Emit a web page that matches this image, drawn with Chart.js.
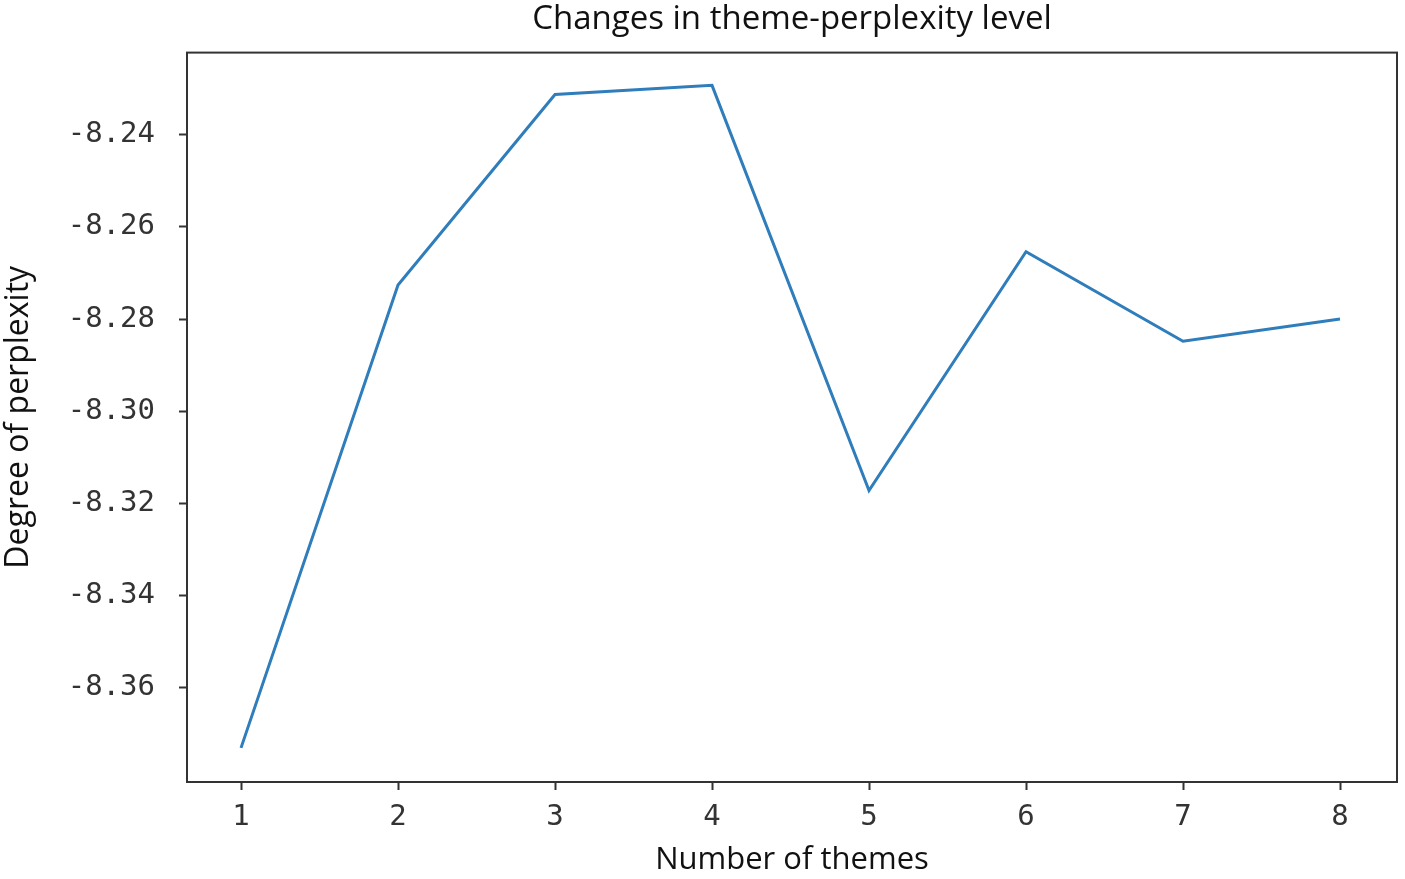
<!DOCTYPE html>
<html>
<head>
<meta charset="utf-8">
<script src="https://cdn.jsdelivr.net/npm/chart.js@4"></script>
<style>
  html, body { margin: 0; padding: 0; background: #fff; }
  #wrap { width: 1405px; height: 879px; }
</style>
</head>
<body>
<div id="wrap"><canvas id="perplexityChart"></canvas></div>
<script>
// Number of themes vs perplexity
const themes = [1, 2, 3, 4, 5, 6, 7, 8];
const perplexity = [-8.3730, -8.2726, -8.2313, -8.2293, -8.3172, -8.2654, -8.2848, -8.2800];
const xTicks = [1, 2, 3, 4, 5, 6, 7, 8];
const yTicks = [-8.36, -8.34, -8.32, -8.30, -8.28, -8.26, -8.24];

// box around the plot area
const frame = {
  id: "frame",
  afterDraw(chart) {
    const { ctx, chartArea: a } = chart;
    ctx.save();
    ctx.strokeStyle = "#333";
    ctx.lineWidth = 2;
    ctx.strokeRect(a.left, a.top, a.right - a.left, a.bottom - a.top);
    ctx.restore();
  }
};

const ctx = document.getElementById("perplexityChart").getContext("2d");

new Chart(ctx, {
  type: "line",
  data: {
    datasets: [{
      label: "Perplexity",
      data: themes.map((t, i) => ({ x: t, y: perplexity[i] })),
      borderColor: "#2f7dbb",
      borderWidth: 3,
      pointRadius: 0,
      tension: 0,
      fill: false
    }]
  },
  options: {
    responsive: true,
    maintainAspectRatio: false,
    animation: false,
    layout: { padding: { top: 0, right: 8, bottom: 0, left: 0 } },
    plugins: {
      legend: { display: false },
      tooltip: { enabled: false },
      title: {
        display: true,
        text: "Changes in theme-perplexity level",
        color: "#111",
        fullSize: false,
        font: { family: "'Open Sans', 'Noto Sans', sans-serif", size: 33, weight: "normal" },
        padding: { top: 0, bottom: 13 }
      }
    },
    scales: {
      x: {
        type: "linear",
        min: 0.656,
        max: 8.363,
        afterBuildTicks: scale => { scale.ticks = xTicks.map(v => ({ value: v })); },
        afterFit: scale => { scale.height = 97; },
        grid: { drawOnChartArea: false, tickLength: 8, tickColor: "#333", tickWidth: 2 },
        border: { display: true, color: "#333", width: 2 },
        ticks: {
          color: "#333",
          padding: 10,
          maxRotation: 0,
          font: { family: "'DejaVu Sans Mono', monospace", size: 29 }
        },
        title: {
          display: true,
          text: "Number of themes",
          color: "#111",
          padding: { top: 0, bottom: 0 },
          font: { family: "'Open Sans', 'Noto Sans', sans-serif", size: 31 }
        }
      },
      y: {
        min: -8.3804,
        max: -8.2222,
        afterBuildTicks: scale => { scale.ticks = yTicks.map(v => ({ value: v })); },
        afterFit: scale => { scale.width = 187; },
        grid: { drawOnChartArea: false, tickLength: 8, tickColor: "#333", tickWidth: 2 },
        border: { display: true, color: "#333", width: 2 },
        ticks: {
          color: "#333",
          padding: 24,
          font: { family: "'DejaVu Sans Mono', monospace", size: 29 },
          callback: v => v.toFixed(2)
        },
        title: {
          display: true,
          text: "Degree of perplexity",
          color: "#111",
          padding: { top: 0, bottom: 0 },
          font: { family: "'Open Sans', 'Noto Sans', sans-serif", size: 32 }
        }
      }
    }
  },
  plugins: [frame]
});
</script>
</body>
</html>
